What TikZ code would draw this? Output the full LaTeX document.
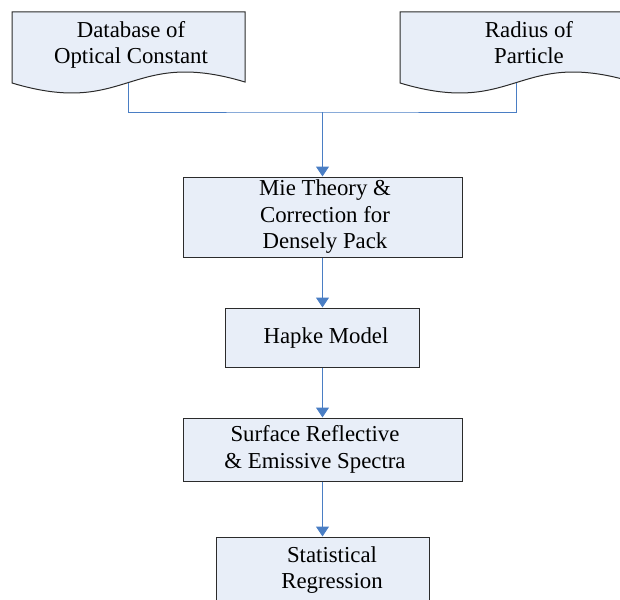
\documentclass[tikz,border=0pt]{standalone}
\usepackage{fontspec}
\setmainfont{Liberation Serif}
\usetikzlibrary{arrows.meta}
\definecolor{boxfill}{HTML}{E8EEF8}
\definecolor{linkblue}{HTML}{4A7EC4}
\definecolor{edge}{HTML}{2B2B2B}
\begin{document}
\begin{tikzpicture}[x=1pt,y=-1pt,
  txt/.style={font=\fontsize{22.8}{26.5}\selectfont,align=center,inner sep=0pt},
  procbox/.style={draw=edge,fill=boxfill,line width=1pt,inner sep=0pt},
  docshape/.style={draw=edge,fill=boxfill,line width=1pt},
  conn/.style={draw=linkblue,line width=1pt},
  arr/.style={conn,-{Triangle[width=13pt,length=10pt]}}]
\useasboundingbox (0,0) rectangle (620,599);
\clip (0,0) rectangle (620,599);
% documents
\draw[docshape] (12,12) -- (245,12) -- (245,82)
  .. controls (128.5,47) and (128.5,118) .. (12,83) -- cycle;
\draw[docshape] (400,12) -- (633,12) -- (633,82)
  .. controls (516.5,47) and (516.5,118) .. (400,83) -- cycle;
\node[txt] (dbtxt) at (131,45) {Database of\\Optical Constant};
\node[txt] (radtxt) at (529,42.5) {Radius of\\Particle};
\coordinate (dl) at (128.5,83);
\coordinate (dr) at (516.5,83);
\coordinate (j) at (322.5,112);
% process boxes
\node[procbox,minimum width=279pt,minimum height=80pt] (mie) at (322.5,217) {};
\node[txt] (mietxt) at (325,217) {Mie Theory \&\\Correction for\\Densely Pack};
\node[procbox,minimum width=194pt,minimum height=59pt] (hapke) at (322.5,337.5) {};
\node[txt] (hapketxt) at (326,338) {Hapke Model};
\node[procbox,minimum width=279pt,minimum height=63pt] (surf) at (322.5,449.5) {};
\node[txt] (surftxt) at (315,449.5) {Surface Reflective\\\& Emissive Spectra};
\node[procbox,minimum width=213pt,minimum height=84pt] (stat) at (322.5,579) {};
\node[txt] (stattxt) at (332,570) {Statistical\\Regression};
% connectors
\draw[conn] (dl) |- (j) -| (dr);
\draw[arr] (j) -- (mie.north);
\draw[arr] (mie.south) -- (hapke.north);
\draw[arr] (hapke.south) -- (surf.north);
\draw[arr] (surf.south) -- (stat.north);
\end{tikzpicture}
\end{document}
